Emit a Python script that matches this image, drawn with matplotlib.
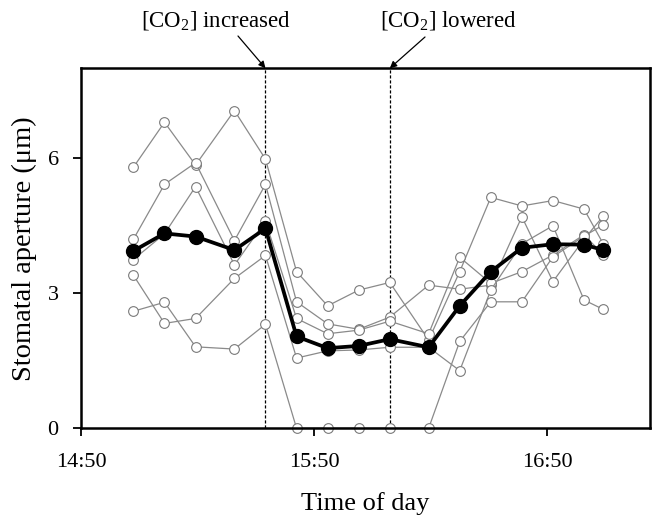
import matplotlib
matplotlib.use('Agg')
import matplotlib.pyplot as plt

plt.rcParams['font.family'] = ['Liberation Serif', 'DejaVu Serif']
plt.rcParams['mathtext.fontset'] = 'custom'
plt.rcParams['mathtext.rm'] = 'Liberation Serif'
plt.rcParams['mathtext.it'] = 'Liberation Serif:italic'

# minutes after 14:50
minutes = [13.5, 21.5, 29.5, 39.5, 47.5, 55.5, 63.5, 71.5, 79.5,
           89.5, 97.5, 105.5, 113.5, 121.5, 129.5, 134.5]

# individual stomata (um)
stoma_a = [5.8, 6.8, 5.85, 7.06, 5.98, 3.48, 2.72, 3.07, 3.24, 1.96, 3.48, 5.13, 4.94, 5.06, 4.87, 4.09]
stoma_b = [4.2, 5.42, 5.9, 4.17, 5.42, 2.81, 2.32, 2.2, 2.47, 3.18, 3.09, 3.18, 4.7, 3.26, 4.2, 4.72]
stoma_c = [3.75, 4.32, 5.37, 3.63, 4.6, 2.44, 2.1, 2.18, 2.38, 2.1, 3.8, 3.22, 3.48, 3.85, 4.3, 3.85]
stoma_d = [3.4, 2.33, 2.44, 3.33, 3.84, 1.56, 1.72, 1.74, 1.8, 1.8, 1.28, 3.07, 4.1, 4.5, 2.85, 2.64]
stoma_e = [2.6, 2.8, 1.81, 1.76, 2.31, 0, 0, 0, 0, 0, 1.93, 2.81, 2.81, 3.81, 4.27, 4.52]

# mean aperture
mean_aperture = [3.94, 4.33, 4.26, 3.96, 4.44, 2.04, 1.78, 1.83, 1.98, 1.8,
                 2.72, 3.48, 4.01, 4.09, 4.08, 3.96]

co2_up = 47.5
co2_down = 79.5
tick_pos = [0, 60, 120]
tick_lab = ['14:50', '15:50', '16:50']

fig = plt.figure(figsize=(6.53, 5.21), dpi=100)
ax = fig.add_axes([0.124, 0.178, 0.8715, 0.691])

for s in [stoma_a, stoma_b, stoma_c, stoma_d, stoma_e]:
    ax.plot(minutes, s, color='#8a8a8a', lw=0.9, marker='o', ms=7,
            mfc='white', mec='#7a7a7a', mew=0.8, clip_on=False, zorder=3)

ax.plot(minutes, mean_aperture, color='black', lw=2.7, marker='o', ms=10,
        mfc='black', mec='black', clip_on=False, zorder=5)

ax.axvline(co2_up, color='black', lw=0.9, ls=(0, (2.5, 1.5)), zorder=2)
ax.axvline(co2_down, color='black', lw=0.9, ls=(0, (2.5, 1.5)), zorder=2)

ax.set_xlim(0, 146.5)
ax.set_ylim(0, 8)
ax.set_xticks(tick_pos)
ax.set_xticklabels(tick_lab)
ax.set_yticks([0, 3, 6])
ax.tick_params(axis='both', direction='out', length=6, width=1.3, labelsize=16)
ax.tick_params(axis='x', pad=12)
ax.tick_params(axis='y', pad=10)
for sp in ax.spines.values():
    sp.set_linewidth(1.8)
    sp.set_zorder(6)

ax.set_xlabel('Time of day', fontsize=19, labelpad=14)
ax.set_ylabel('Stomatal aperture (\u03bcm)', fontsize=20.5, labelpad=8)

arrow = dict(arrowstyle='-|>', color='black', lw=0.9, mutation_scale=10,
             shrinkA=0, shrinkB=0)
ax.annotate('', xy=(co2_up, 8), xycoords='data',
            xytext=(238, 521 - 36), textcoords='figure pixels', arrowprops=arrow)
ax.annotate('', xy=(co2_down, 8), xycoords='data',
            xytext=(425, 521 - 37), textcoords='figure pixels', arrowprops=arrow)
fig.text(216 / 653, 1 - 20 / 521, '[CO$_2$] increased', fontsize=16.5,
         ha='center', va='center')
fig.text(448 / 653, 1 - 20 / 521, '[CO$_2$] lowered', fontsize=16.5,
         ha='center', va='center')

plt.savefig('out.png', dpi=100)
